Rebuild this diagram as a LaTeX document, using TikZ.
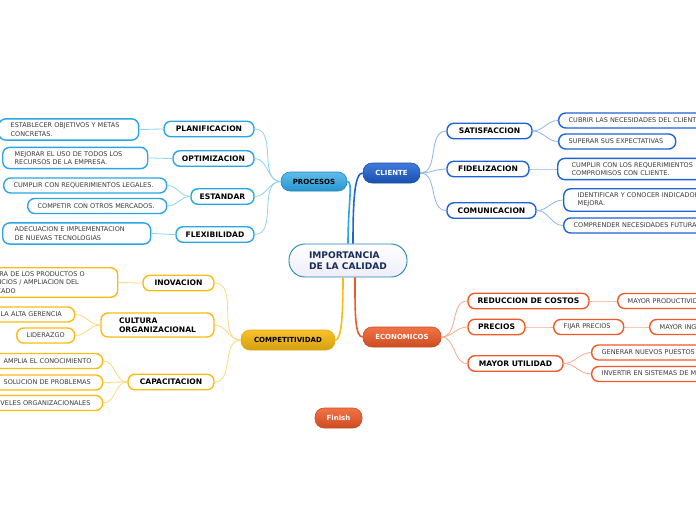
\documentclass[tikz,border=0pt]{standalone}
\usepackage{fontspec}
\setmainfont{DejaVu Sans}
\usetikzlibrary{positioning}
\hyphenpenalty=10000
\exhyphenpenalty=10000
\definecolor{pcol}{HTML}{2AA6E6}
\definecolor{plin}{HTML}{8FD2F2}
\definecolor{ccol}{HTML}{1F63D6}
\definecolor{clin}{HTML}{8DB3EE}
\definecolor{kcol}{HTML}{F9BB14}
\definecolor{klin}{HTML}{FCD880}
\definecolor{ecol}{HTML}{F05A28}
\definecolor{elin}{HTML}{F8A98C}
\definecolor{leaftext}{HTML}{3A3A3A}
\definecolor{navy}{HTML}{1A2C5A}
\tikzset{
  topic/.style = {draw, rounded corners=9pt, line width=0.6pt, minimum height=20pt,
                  inner sep=0pt, font=\fontsize{7}{8}\selectfont\bfseries},
  sub/.style   = {draw, fill=white, rounded corners=7pt, line width=1.4pt, minimum height=15.5pt,
                  inner sep=0pt, align=center, text=black, font=\fontsize{7.6}{9}\selectfont\bfseries},
  leaf/.style  = {draw, fill=white, rounded corners=7pt, line width=1.4pt, anchor=west, align=left,
                  minimum height=15pt, inner ysep=4pt, inner xsep=10pt, text=leaftext,
                  font=\fontsize{6.5}{8.3}\selectfont},
  wide/.style  = {inner xsep=12pt},                % two-line leaves
  psub/.style  = {sub, draw=pcol},  pleaf/.style = {leaf, draw=pcol},
  csub/.style  = {sub, draw=ccol},  cleaf/.style = {leaf, draw=ccol},
  ksub/.style  = {sub, draw=kcol},  kleaf/.style = {leaf, draw=kcol},
  esub/.style  = {sub, draw=ecol},  eleaf/.style = {leaf, draw=ecol},
  link/.style  = {line width=0.8pt},
  trunk/.style = {line width=1.6pt},
}

\begin{document}
\begin{tikzpicture}[x=1pt, y=1pt]
  \path[use as bounding box, fill=white] (0,0) rectangle (696,-520);
  \clip (0,0) rectangle (696,-520);

  \node[draw=pcol!80!black, line width=0.9pt, rounded corners=16pt, top color=white, bottom color=gray!25!blue!8,
        minimum width=118pt, minimum height=33pt, inner sep=0pt, align=left, text=navy,
        font=\fontsize{9.1}{10.8}\selectfont\bfseries]
               at (348,-260.5) (imp)   {IMPORTANCIA\\DE LA CALIDAD};

  \node[topic, draw=pcol!80!black, top color=pcol!75!white, bottom color=pcol!90!black,
        minimum width=66pt, minimum height=19pt] at (314,-181.5) (proc) {PROCESOS};
  \node[topic, draw=ccol!80!black, top color=ccol!85!white, bottom color=ccol!80!black, text=white,
        minimum width=57pt] at (391.5,-173) (cli)  {CLIENTE};
  \node[topic, draw=kcol!90!black, top color=kcol!90!white, bottom color=kcol!85!black,
        minimum width=94pt] at (288,-340)   (comp) {COMPETITIVIDAD};
  \node[topic, draw=ecol!85!black, top color=ecol!85!white, bottom color=ecol!85!black, text=white,
        minimum width=78pt] at (402,-337)   (eco)  {ECONOMICOS};
  \node[topic, draw=ecol!85!black, top color=ecol!85!white, bottom color=ecol!85!black, text=white,
        minimum width=47pt] at (338.5,-418) (fin)  {Finish};

  % PROCESOS
  \node[psub, minimum width=90pt] at (209,-129)   (planif) {PLANIFICACION};
  \node[psub, minimum width=81pt] at (213.5,-158.5) (optim) {OPTIMIZACION};
  \node[psub, minimum width=63pt] at (222.5,-196.5) (estand) {ESTANDAR};
  \node[psub, minimum width=78pt] at (215,-234.5) (flex)   {FLEXIBILIDAD};
  \node[pleaf, wide, text width=116pt] at (-2,-129.5) (metas) {ESTABLECER OBJETIVOS Y METAS\\CONCRETAS.};
  \node[pleaf, wide, text width=121pt] at (2,-158)    (recur) {MEJORAR EL USO DE TODOS LOS\\RECURSOS DE LA EMPRESA.};
  \node[pleaf, text width=143pt]       at (3,-185.5)  (legal) {CUMPLIR CON REQUERIMIENTOS LEGALES.};
  \node[pleaf, text width=119pt]       at (27,-206)   (merc)  {COMPETIR CON OTROS MERCADOS.};
  \node[pleaf, wide, text width=124pt] at (2,-233.5)  (tecno) {ADECUACION E IMPLEMENTACION\\DE NUEVAS TECNOLOGIAS};

  % CLIENTE
  \node[csub, minimum width=85pt] at (489.5,-131) (satis) {SATISFACCION};
  \node[csub, minimum width=82pt] at (488,-169)   (fidel) {FIDELIZACION};
  \node[csub, minimum width=89pt] at (491.5,-210.5) (comun) {COMUNICACION};
  \node[cleaf, text width=160pt]       at (558,-120.5) (cubrir) {CUBRIR LAS NECESIDADES DEL CLIENTE};
  \node[cleaf, text width=97pt]        at (558,-141.5) (expec)  {SUPERAR SUS EXPECTATIVAS};
  \node[cleaf, inner xsep=14pt, text width=170pt] at (557,-169) (compro) {CUMPLIR CON LOS REQUERIMIENTOS\\COMPROMISOS CON CLIENTE.};
  \node[cleaf, inner xsep=14pt, text width=170pt] at (563,-200) (indic)  {IDENTIFICAR Y CONOCER INDICADORES\\MEJORA.};
  \node[cleaf, text width=170pt]       at (563,-225.5) (futur)  {COMPRENDER NECESIDADES FUTURAS};

  % COMPETITIVIDAD
  \node[ksub, minimum width=71pt] at (178.5,-283) (inova) {INOVACION};
  \node[ksub, minimum width=113pt, minimum height=24pt, align=left] at (157.5,-325) (cultura) {CULTURA\\ORGANIZACIONAL};
  \node[ksub, minimum width=86pt] at (171,-382)   (capac) {CAPACITACION};
  \node[kleaf, inner xsep=14pt, text width=121pt] at (-32,-282.5) (mejora) {MEJORA DE LOS PRODUCTOS O\\SERVICIOS / AMPLIACION DEL\\MERCADO};
  \node[kleaf, text width=64pt]  at (-10,-314.5) (geren) {LA ALTA GERENCIA};
  \node[kleaf, text width=38pt]  at (16,-335.5) (lider) {LIDERAZGO};
  \node[kleaf, text width=89pt]  at (-7,-361)   (ampl)  {AMPLIA EL CONOCIMIENTO};
  \node[kleaf, text width=89pt]  at (-7,-382.5) (soluc) {SOLUCION DE PROBLEMAS};
  \node[kleaf, text width=99pt]  at (-17,-403)  (nivel) {NIVELES ORGANIZACIONALES};

  % ECONOMICOS
  \node[esub, minimum width=121pt] at (528.5,-301) (costos) {REDUCCION DE COSTOS};
  \node[esub, minimum width=57pt]  at (496.5,-327) (precio) {PRECIOS};
  \node[esub, minimum width=95pt]  at (515.5,-363.5) (util) {MAYOR UTILIDAD};
  \node[eleaf, text width=120pt] at (617,-301)   (produc) {MAYOR PRODUCTIVIDAD};
  \node[eleaf, text width=50pt]  at (553,-327)   (fijar)  {FIJAR PRECIOS};
  \node[eleaf, text width=80pt]  at (649,-327)   (ingre)  {MAYOR INGRESOS};
  \node[eleaf, text width=150pt] at (591,-352.5) (puest)  {GENERAR NUEVOS PUESTOS};
  \node[eleaf, text width=150pt] at (591,-374)   (invert) {INVERTIR EN SISTEMAS DE MEJORA};

  % trunks
  \draw[trunk, pcol] (imp.north) to[out=90, in=0, out distance=40pt, in distance=6pt] (proc.east);
  \draw[trunk, ccol] ([xshift=5pt]imp.north) to[out=90, in=180, out distance=45pt, in distance=8pt] (cli.west);
  \draw[trunk, kcol] ([xshift=-5pt]imp.south) to[out=-90, in=0, out distance=40pt, in distance=6pt] (comp.east);
  \draw[trunk, ecol] ([xshift=7pt]imp.south) to[out=-90, in=180, out distance=35pt, in distance=8pt] (eco.west);

  \draw[link, plin] (proc.west)   to[out=180, in=0] (planif.east);
  \draw[link, plin] (proc.west)   to[out=180, in=0] (optim.east);
  \draw[link, plin] (proc.west)   to[out=180, in=0] (estand.east);
  \draw[link, plin] (proc.west)   to[out=180, in=0] (flex.east);
  \draw[link, plin] (planif.west) to[out=180, in=0] (metas.east);
  \draw[link, plin] (optim.west)  to[out=180, in=0] (recur.east);
  \draw[link, plin] (estand.west) to[out=180, in=0] (legal.east);
  \draw[link, plin] (estand.west) to[out=180, in=0] (merc.east);
  \draw[link, plin] (flex.west)   to[out=180, in=0] (tecno.east);

  \draw[link, clin] (cli.east)    to[out=0, in=180] (satis.west);
  \draw[link, clin] (cli.east)    to[out=0, in=180] (fidel.west);
  \draw[link, clin] (cli.east)    to[out=0, in=180] (comun.west);
  \draw[link, clin] (satis.east)  to[out=0, in=180] (cubrir.west);
  \draw[link, clin] (satis.east)  to[out=0, in=180] (expec.west);
  \draw[link, clin] (fidel.east)  to[out=0, in=180] (compro.west);
  \draw[link, clin] (comun.east)  to[out=0, in=180] (indic.west);
  \draw[link, clin] (comun.east)  to[out=0, in=180] (futur.west);

  \draw[link, klin] (comp.west)    to[out=180, in=0] (inova.east);
  \draw[link, klin] (comp.west)    to[out=180, in=0] (cultura.east);
  \draw[link, klin] (comp.west)    to[out=180, in=0] (capac.east);
  \draw[link, klin] (inova.west)   to[out=180, in=0] (mejora.east);
  \draw[link, klin] (cultura.west) to[out=180, in=0] (geren.east);
  \draw[link, klin] (cultura.west) to[out=180, in=0] (lider.east);
  \draw[link, klin] (capac.west)   to[out=180, in=0] (ampl.east);
  \draw[link, klin] (capac.west)   to[out=180, in=0] (soluc.east);
  \draw[link, klin] (capac.west)   to[out=180, in=0] (nivel.east);

  \draw[link, elin] (eco.east)    to[out=0, in=180] (costos.west);
  \draw[link, elin] (eco.east)    to[out=0, in=180] (precio.west);
  \draw[link, elin] (eco.east)    to[out=0, in=180] (util.west);
  \draw[link, elin] (costos.east) to[out=0, in=180] (produc.west);
  \draw[link, elin] (precio.east) to[out=0, in=180] (fijar.west);
  \draw[link, elin] (fijar.east)  to[out=0, in=180] (ingre.west);
  \draw[link, elin] (util.east)   to[out=0, in=180] (puest.west);
  \draw[link, elin] (util.east)   to[out=0, in=180] (invert.west);
\end{tikzpicture}
\end{document}
